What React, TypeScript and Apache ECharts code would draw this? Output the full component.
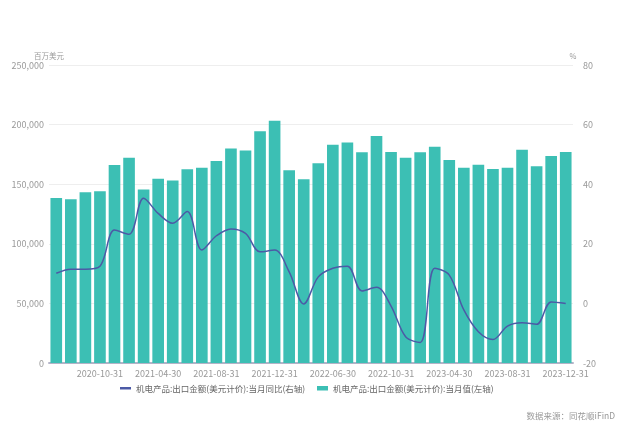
import React, { useEffect, useRef } from "react";
import * as echarts from "echarts";

// Monthly months (Jan/Feb reported combined, so not listed)
const categories = [
  "2020-07-31", "2020-08-31", "2020-09-30", "2020-10-31", "2020-11-30", "2020-12-31",
  "2021-03-31", "2021-04-30", "2021-05-31", "2021-06-30", "2021-07-31", "2021-08-31",
  "2021-09-30", "2021-10-31", "2021-11-30", "2021-12-31",
  "2022-03-31", "2022-04-30", "2022-05-31", "2022-06-30", "2022-07-31", "2022-08-31",
  "2022-09-30", "2022-10-31", "2022-11-30", "2022-12-31",
  "2023-03-31", "2023-04-30", "2023-05-31", "2023-06-30", "2023-07-31", "2023-08-31",
  "2023-09-30", "2023-10-31", "2023-11-30", "2023-12-31",
];

// 机电产品出口金额 当月值 (百万美元)
const exportValue = [
  138500, 137400, 143300, 144100, 166200, 172100,
  145500, 154500, 153000, 162600, 163700, 169500,
  179900, 178200, 194400, 203300,
  161700, 154200, 167600, 183000, 184900, 176800,
  190500, 177100, 172100, 176800,
  181500, 170400, 163900, 166400, 162800, 163700,
  178800, 165100, 173700, 177100,
];

// 当月同比 (%)
const exportYoY = [
  10.1, 11.5, 11.5, 12.5, 24.6, 23.2,
  35.3, 30.2, 26.9, 30.8, 17.9, 22.7,
  25.0, 23.5, 17.3, 17.9,
  10.6, -0.2, 8.9, 11.8, 12.5, 4.2,
  5.4, -0.9, -11.2, -13.1,
  11.8, 9.5, -2.2, -9.5, -12.1, -7.6,
  -6.5, -7.0, 0.5, 0.0,
];

const leftTicks = { min: 0, max: 250000, interval: 50000 };
const rightTicks = { min: -20, max: 80, interval: 20 };

const lineName = "机电产品:出口金额(美元计价):当月同比(右轴)";
const barName = "机电产品:出口金额(美元计价):当月值(左轴)";

export default function App() {
  const ref = useRef<HTMLDivElement>(null);

  useEffect(() => {
    if (!ref.current) return;
    const chart = echarts.init(ref.current, undefined, { renderer: "svg" });
    const font = "'Noto Sans CJK SC', 'Noto Sans', sans-serif";
    const legendText = { fontSize: 8.5, color: "#666", fontFamily: font };
    chart.setOption({
      animation: false,
      textStyle: { fontFamily: font },
      grid: { left: 49, right: 47, top: 65, bottom: 60, containLabel: false },
      legend: [
        {
          left: 120,
          top: 384,
          padding: 0,
          icon: "rect",
          itemWidth: 11,
          itemHeight: 2.5,
          textStyle: legendText,
          data: [lineName],
        },
        {
          left: 317,
          top: 384,
          padding: 0,
          icon: "rect",
          itemWidth: 11,
          itemHeight: 4.5,
          textStyle: legendText,
          data: [barName],
        },
      ],
      graphic: [
        {
          type: "text",
          right: 5,
          top: 411,
          style: {
            text: "数据来源：同花顺iFinD",
            fill: "#999",
            fontSize: 8.5,
            fontFamily: font,
          },
        },
      ],
      xAxis: {
        type: "category",
        data: categories,
        axisLine: { lineStyle: { color: "#b4b4c8", width: 2 } },
        axisTick: { show: false },
        axisLabel: {
          color: "#999",
          fontSize: 9,
          margin: 6,
          interval: (i: number) => i % 4 === 3,
        },
      },
      yAxis: [
        {
          type: "value",
          name: "百万美元",
          nameGap: 6,
          nameTextStyle: { color: "#999", fontSize: 7.5 },
          ...leftTicks,
          axisLine: { show: false },
          axisTick: { show: false },
          axisLabel: {
            color: "#999",
            fontSize: 9,
            margin: 5,
            formatter: (v: number) => v.toLocaleString("en-US"),
          },
          splitLine: { lineStyle: { color: "#eeeeee" } },
        },
        {
          type: "value",
          name: "%",
          nameGap: 6,
          nameTextStyle: { color: "#999", fontSize: 7.5 },
          ...rightTicks,
          axisLine: { show: false },
          axisTick: { show: false },
          axisLabel: { color: "#999", fontSize: 9, margin: 10 },
          splitLine: { show: false },
        },
      ],
      series: [
        {
          name: barName,
          type: "bar",
          yAxisIndex: 0,
          data: exportValue,
          barCategoryGap: "20%",
          itemStyle: { color: "#3cbfb4" },
        },
        {
          name: lineName,
          type: "line",
          yAxisIndex: 1,
          data: exportYoY,
          smooth: 0.35,
          symbol: "none",
          lineStyle: { color: "#4c5aa6", width: 1.5 },
          itemStyle: { color: "#4c5aa6" },
          z: 3,
        },
      ],
    });
    return () => chart.dispose();
  }, []);

  return (
    <div
      ref={ref}
      style={{ position: "fixed", left: 0, top: 0, width: 620, height: 423 }}
    />
  );
}
